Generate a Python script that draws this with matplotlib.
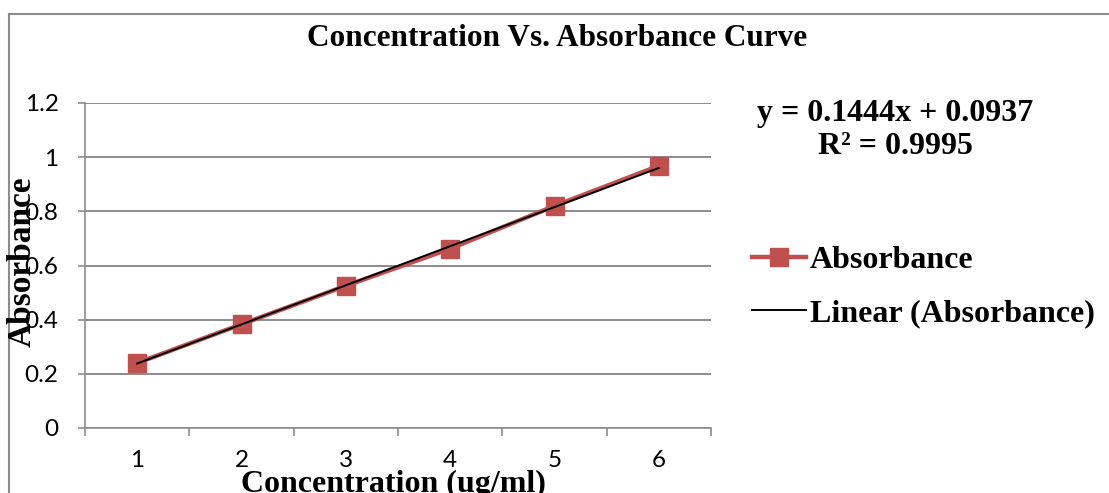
import matplotlib.pyplot as plt
from matplotlib.lines import Line2D
import numpy as np

# data
concentration = [1, 2, 3, 4, 5, 6]
absorbance = [0.24, 0.383, 0.525, 0.662, 0.82, 0.968]
slope, intercept, r2 = 0.1444, 0.0937, 0.9995
y_ticks = [0, 0.2, 0.4, 0.6, 0.8, 1, 1.2]
y_tick_labels = ['0', '0.2', '0.4', '0.6', '0.8', '1', '1.2']

W, H = 1109, 493
fig = plt.figure(figsize=(W / 100, H / 100), dpi=100)
ax = fig.add_axes([85 / W, (H - 428) / H, (711 - 85) / W, (428 - 103) / H])

red = '#C0504D'
grey = '#8C8C8C'
serif = 'Liberation Serif'
tickfont = 'Lato'

x = np.array(concentration)
ax.plot(x, absorbance, color=red, lw=3.2, marker='s', ms=13, mfc=red, mec=red,
        label='Absorbance', zorder=3)
ax.plot(x, slope * x + intercept, color='black', lw=1.4, label='Linear (Absorbance)', zorder=4)

ax.set_xlim(0.5, 6.5)
ax.set_ylim(0, 1.2)
ax.set_yticks(y_ticks)
ax.set_yticklabels(y_tick_labels, fontfamily=tickfont, fontsize=17.5)
ax.set_xticks(concentration)
ax.set_xticklabels([str(c) for c in concentration], fontfamily=tickfont, fontsize=17.5)
ax.set_xticks(np.arange(0.5, 7, 1), minor=True)
ax.tick_params(axis='x', which='major', length=0, pad=16)
ax.tick_params(axis='x', which='minor', length=6, color=grey, width=1.2, direction='out')
ax.tick_params(axis='y', length=5, color=grey, width=1.2, pad=14)
ax.yaxis.grid(True, color=grey, lw=1.4)
ax.set_axisbelow(True)
for s in ['top', 'right']:
    ax.spines[s].set_visible(False)
for s in ['left', 'bottom']:
    ax.spines[s].set_color(grey)
    ax.spines[s].set_linewidth(1.2)

fig.text(557 / W, 1 - 38 / H, 'Concentration Vs. Absorbance Curve', ha='center', va='center',
         fontfamily=serif, fontweight='bold', fontsize=22.5)
fig.text(895 / W, 1 - 113 / H, 'y = 0.1444x + 0.0937', ha='center', va='center',
         fontfamily=serif, fontweight='bold', fontsize=23)
fig.text(895 / W, 1 - 146 / H, 'R² = %.4f' % r2, ha='center', va='center',
         fontfamily=serif, fontweight='bold', fontsize=23)
fig.text(22 / W, 1 - 262 / H, 'Absorbance', ha='center', va='center', rotation=90,
         fontfamily=serif, fontweight='bold', fontsize=24)
fig.text(393 / W, 1 - 484 / H, 'Concentration (ug/ml)', ha='center', va='center',
         fontfamily=serif, fontweight='bold', fontsize=23)

fig.legend(loc='upper left', bbox_to_anchor=(752 / W, 1 - 246 / H), frameon=False,
           prop={'family': serif, 'weight': 'bold', 'size': 23}, handlelength=1.7,
           handletextpad=0.12, labelspacing=0.72, borderaxespad=0, borderpad=0)

# chart border (top and left edges visible)
fig.add_artist(Line2D([8.5 / W, 8.5 / W], [0, 1 - 13.5 / H], color=grey, lw=1.5, transform=fig.transFigure))
fig.add_artist(Line2D([8.5 / W, 1], [1 - 13.5 / H, 1 - 13.5 / H], color=grey, lw=1.5, transform=fig.transFigure))

fig.savefig('out.png', dpi=100)
